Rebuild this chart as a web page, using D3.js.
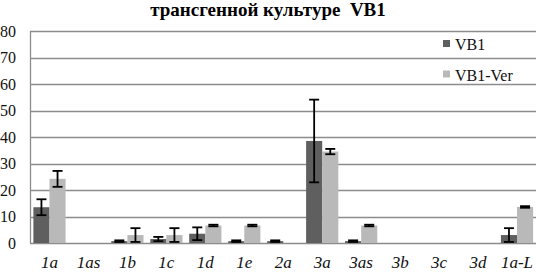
<!DOCTYPE html>
<html>
<head>
<meta charset="utf-8">
<script src="https://cdn.jsdelivr.net/npm/d3@7"></script>
<style>
  body { margin: 0; background: #fff; }
</style>
</head>
<body>
<script>
const categories = ['1a', '1as', '1b', '1c', '1d', '1e', '2a', '3a', '3as', '3b', '3c', '3d', '1a-L'];
const series = ['VB1', 'VB1-Ver'];
const vb1 = [13.5, 0, 0.7, 1.5, 3.5, 0.7, 0.7, 38.5, 0.7, 0, 0, 0, 3];
const vb1Err = [3, 0, 0.3, 0.8, 2.4, 0.3, 0.3, 15.6, 0.3, 0, 0, 0, 2.6];
const vb1Ver = [24.2, 0, 3, 3, 6.6, 6.6, 0, 34.5, 6.6, 0, 0, 0, 13.6];
const vb1VerErr = [3, 0, 2.6, 2.6, 0.3, 0.3, 0, 1, 0.3, 0, 0, 0, 0.3];
const yTicks = [0, 10, 20, 30, 40, 50, 60, 70, 80];

const W = 536, H = 272;
const m = {top: 31, right: 0, bottom: 29, left: 30};
const serif = "'Liberation Serif', 'Times New Roman', 'DejaVu Serif', serif";

const svg = d3.select('body').append('svg')
    .attr('width', W)
    .attr('height', H)
    .attr('font-family', serif);

const x = d3.scaleBand()
    .domain(categories)
    .range([m.left, W + 0.5])
    .paddingInner(0)
    .paddingOuter(0);

const xs = d3.scaleBand()
    .domain(series)
    .range([0, x.bandwidth()])
    .paddingInner(0)
    .paddingOuter(0.21);

const y = d3.scaleLinear()
    .domain([0, 80])
    .range([H - m.bottom, m.top]);

const colors = {'VB1': '#5f5f5f', 'VB1-Ver': '#b9b9b9'};

// title
svg.append('text')
    .attr('x', 268)
    .attr('y', 16)
    .attr('text-anchor', 'middle')
    .style('font-family', serif)
    .style('font-size', '19px')
    .style('font-weight', 'bold')
    .style('white-space', 'pre')
    .text('трансгенной культуре  VB1');

// gridlines
svg.append('g')
    .selectAll('line')
    .data(yTicks)
    .enter()
    .append('line')
    .attr('x1', m.left)
    .attr('x2', W)
    .attr('y1', d => Math.round(y(d)) + 0.5)
    .attr('y2', d => Math.round(y(d)) + 0.5)
    .attr('stroke', '#8c8c8c')
    .attr('stroke-width', 1.3);

// left frame
svg.append('line')
    .attr('x1', m.left + 0.5).attr('x2', m.left + 0.5)
    .attr('y1', y(80)).attr('y2', y(0))
    .attr('stroke', '#8c8c8c')
    .attr('stroke-width', 1.3);

// y axis labels
const yAxis = d3.axisLeft(y).tickValues(yTicks).tickSize(0).tickPadding(14);
const yg = svg.append('g')
    .attr('transform', 'translate(' + m.left + ',0)')
    .call(yAxis);
yg.select('.domain').remove();
yg.attr('font-family', serif).attr('font-size', 16);
yg.selectAll('text')
    .style('font-family', serif)
    .style('font-size', '16px')
    .attr('fill', '#111');

// bars
const rows = categories.map((c, i) => ({
    cat: c,
    vals: [
        {s: 'VB1', v: vb1[i], e: vb1Err[i]},
        {s: 'VB1-Ver', v: vb1Ver[i], e: vb1VerErr[i]}
    ]
}));

const groups = svg.append('g')
    .selectAll('g')
    .data(rows)
    .enter()
    .append('g')
    .attr('transform', d => 'translate(' + x(d.cat) + ',0)');

groups.selectAll('rect')
    .data(d => d.vals)
    .enter()
    .append('rect')
    .attr('x', d => xs(d.s))
    .attr('width', xs.bandwidth())
    .attr('y', d => y(d.v))
    .attr('height', d => y(0) - y(d.v))
    .attr('fill', d => colors[d.s]);

// error bars
const err = groups.selectAll('g.err')
    .data(d => d.vals.filter(v => v.v > 0))
    .enter()
    .append('g')
    .attr('class', 'err')
    .attr('stroke', '#000')
    .attr('stroke-width', 1.8);

err.append('line')
    .attr('x1', d => xs(d.s) + xs.bandwidth() / 2)
    .attr('x2', d => xs(d.s) + xs.bandwidth() / 2)
    .attr('y1', d => y(d.v + d.e))
    .attr('y2', d => y(Math.max(0, d.v - d.e)));

err.selectAll('line.cap')
    .data(d => [d.v + d.e, Math.max(0, d.v - d.e)].map(t => ({s: d.s, t: t})))
    .enter()
    .append('line')
    .attr('class', 'cap')
    .attr('x1', d => xs(d.s) + xs.bandwidth() / 2 - 5)
    .attr('x2', d => xs(d.s) + xs.bandwidth() / 2 + 5)
    .attr('y1', d => y(d.t))
    .attr('y2', d => y(d.t));

// x labels
svg.append('g')
    .selectAll('text')
    .data(categories)
    .enter()
    .append('text')
    .attr('x', d => x(d) + x.bandwidth() / 2)
    .attr('y', 268)
    .attr('text-anchor', 'middle')
    .style('font-family', serif)
    .style('font-size', '17px')
    .style('font-style', 'italic')
    .attr('fill', '#111')
    .text(d => d);

// legend
const legend = svg.append('g')
    .attr('transform', 'translate(443,40)');

const li = legend.selectAll('g')
    .data(series)
    .enter()
    .append('g')
    .attr('transform', (d, i) => 'translate(0,' + (i * 30.5) + ')');

li.append('rect')
    .attr('width', 7)
    .attr('height', 7)
    .attr('fill', d => colors[d]);

li.append('text')
    .attr('x', 12)
    .attr('y', 10)
    .style('font-family', serif)
    .style('font-size', '16px')
    .attr('fill', '#111')
    .text(d => d);
</script>
</body>
</html>
